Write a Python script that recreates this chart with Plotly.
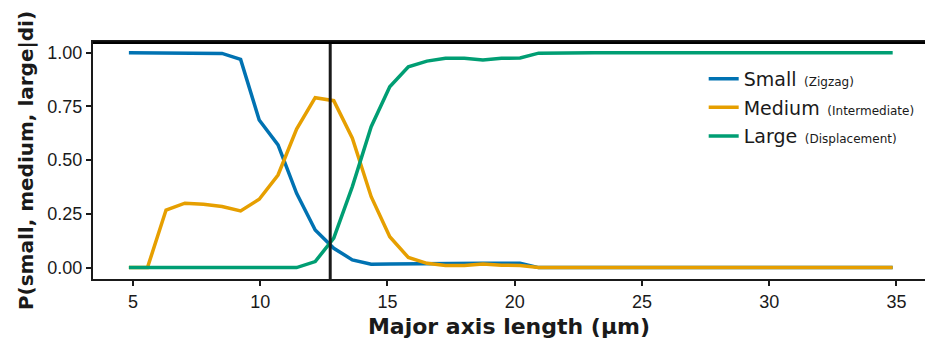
import plotly.graph_objects as go

# Major axis length (µm)
length_um = [4.84, 5.57, 6.30, 7.04, 7.77, 8.50, 9.23, 9.96, 10.70, 11.43,
             12.16, 12.89, 13.62, 14.36, 15.09, 15.82, 16.55, 17.28, 18.02, 18.75,
             19.48, 20.21, 20.94, 21.67, 22.40, 23.13, 23.87, 24.60, 25.33, 26.06,
             26.79, 27.52, 28.26, 28.99, 29.72, 30.45, 31.18, 31.91, 32.65, 33.38,
             34.11, 34.85]

p_small = [1.000, 1.000, 1.000, 1.000, 0.998, 0.997, 0.969, 0.687, 0.571, 0.346,
           0.175, 0.090, 0.036, 0.016, 0.017, 0.018, 0.020, 0.020, 0.020, 0.020,
           0.020, 0.020, 0.000, 0.000, 0.000, 0.000, 0.000, 0.000, 0.000, 0.000,
           0.000, 0.000, 0.000, 0.000, 0.000, 0.000, 0.000, 0.000, 0.000, 0.000,
           0.000, 0.000]

p_medium = [0.000, 0.000, 0.268, 0.300, 0.295, 0.284, 0.264, 0.318, 0.431, 0.645,
            0.791, 0.777, 0.602, 0.330, 0.144, 0.047, 0.020, 0.010, 0.010, 0.017,
            0.011, 0.010, 0.000, 0.000, 0.000, 0.000, 0.000, 0.000, 0.000, 0.000,
            0.000, 0.000, 0.000, 0.000, 0.000, 0.000, 0.000, 0.000, 0.000, 0.000,
            0.000, 0.000]

p_large = [0.000, 0.000, 0.000, 0.000, 0.000, 0.000, 0.000, 0.000, 0.000, 0.000,
           0.028, 0.137, 0.377, 0.656, 0.842, 0.935, 0.961, 0.974, 0.974, 0.966,
           0.974, 0.976, 0.998, 1.000, 1.000, 1.000, 1.000, 1.000, 1.000, 1.000,
           1.000, 1.000, 1.000, 1.000, 1.000, 1.000, 1.000, 1.000, 1.000, 1.000,
           1.000, 1.000]

threshold_um = 12.75

series_names = ["Small", "Medium", "Large"]
series_notes = ["(Zigzag)", "(Intermediate)", "(Displacement)"]
series_colors = ["#0072B2", "#E69F00", "#009E73"]

x_ticks = [5, 10, 15, 20, 25, 30, 35]
y_ticks = [0.0, 0.25, 0.5, 0.75, 1.0]

FONT = "Liberation Sans, Arial, sans-serif"
WIDE = "DejaVu Sans, Liberation Sans, sans-serif"
INK = "#1a1a1a"

fig = go.Figure()
for name, note, color, vals in zip(series_names, series_notes, series_colors,
                                   [p_small, p_medium, p_large]):
    fig.add_trace(go.Scatter(
        x=length_um, y=vals, mode="lines",
        name=f"{name}<span style='font-size:12px'>  {note}</span>",
        legendgroup=name,
        line=dict(color=color, width=3.5),
    ))

fig.add_vline(x=threshold_um, line=dict(color=INK, width=3))
# upper frame line of the panel (drawn just inside the top edge)
fig.add_shape(type="line", xref="paper", yref="paper", x0=0, x1=1,
              y0=0.997, y1=0.997, line=dict(color="black", width=2.5),
              layer="above")

fig.update_layout(
    width=925, height=343,
    margin=dict(l=93, r=0, t=42, b=64),
    paper_bgcolor="white", plot_bgcolor="white",
    font=dict(family=FONT, color=INK),
    showlegend=True,
    legend=dict(
        x=0.734, y=0.925, xanchor="left", yanchor="top",
        font=dict(family=WIDE, size=19, color=INK),
        bgcolor="rgba(0,0,0,0)", itemwidth=30, tracegroupgap=1,
    ),
    xaxis=dict(
        range=[3.43, 36.12], tickvals=x_ticks, ticks="outside", ticklen=5,
        tickwidth=1.5, tickcolor=INK, showline=True, linecolor=INK, linewidth=2,
        mirror=True, showgrid=False, zeroline=False,
        tickfont=dict(family=FONT, size=18, color=INK),
        title=dict(text="<b>Major axis length (μm)</b>",
                   font=dict(family=WIDE, size=22, color=INK), standoff=8),
    ),
    yaxis=dict(
        range=[-0.053, 1.05], tickvals=y_ticks, tickformat=".2f", ticks="outside",
        ticklen=5, tickwidth=1.5, tickcolor=INK, showline=True, linecolor=INK,
        linewidth=2, showgrid=False, zeroline=False,
        tickfont=dict(family=FONT, size=18, color=INK),
        title=dict(text="<b>P(small, medium, large|di)</b>",
                   font=dict(family=WIDE, size=20, color=INK), standoff=8),
    ),
)

fig.write_html("out.html", config={"displayModeBar": False},
               post_script="document.body.style.margin='0';")
